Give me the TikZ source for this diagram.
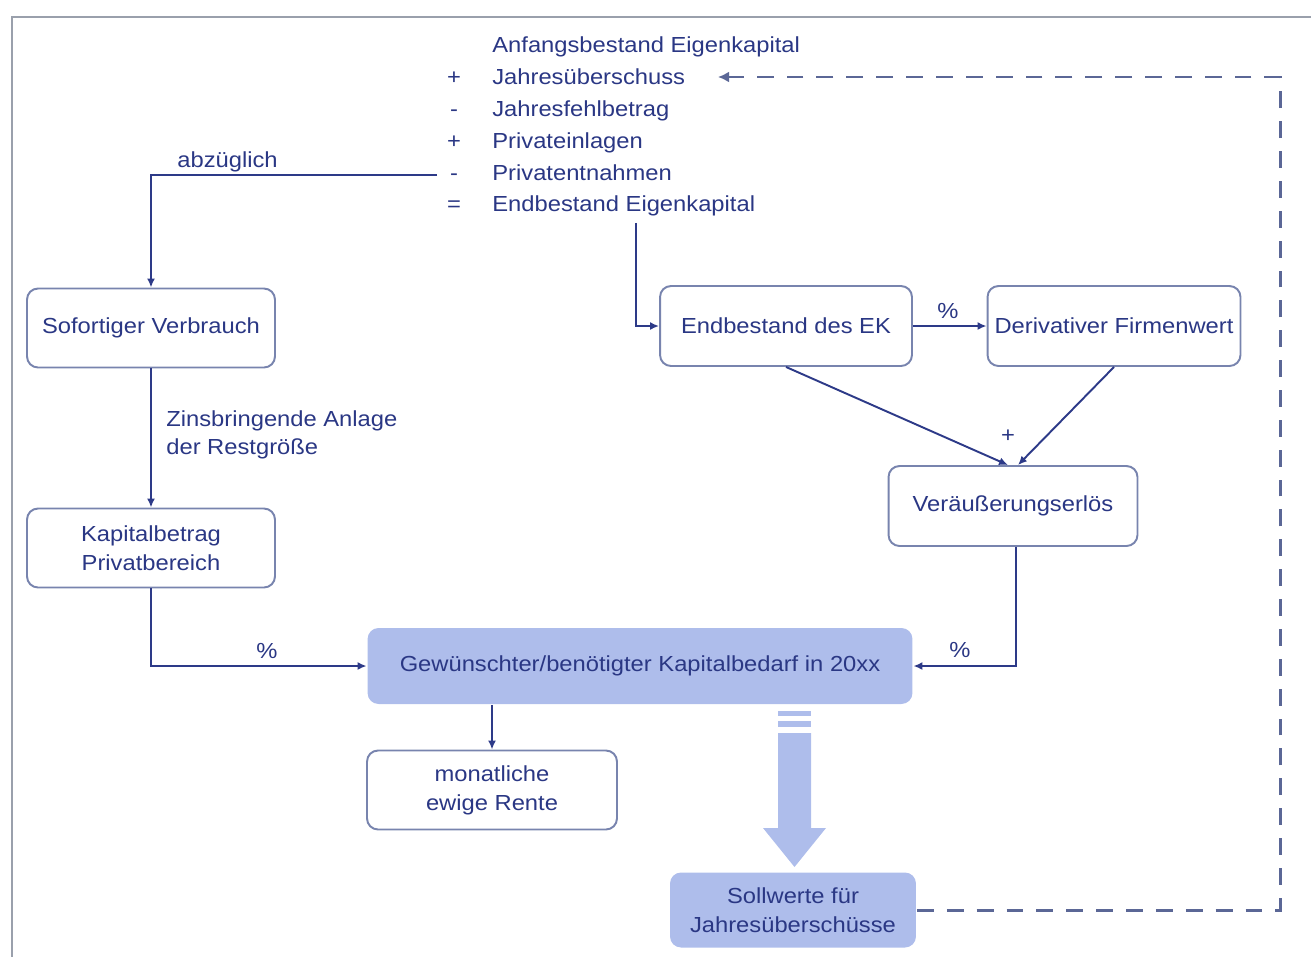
\documentclass[tikz,border=0pt]{standalone}
\usepackage{fontspec}
\setmainfont{Liberation Sans}[FakeStretch=1.09]
\usetikzlibrary{arrows.meta,calc}

\definecolor{txt}{HTML}{2A3784}
\definecolor{connc}{HTML}{2D3A88}
\definecolor{boxline}{HTML}{7884AE}
\definecolor{boxfill}{HTML}{AEBDEB}
\definecolor{dashc}{HTML}{5B6796}
\definecolor{framec}{HTML}{9AA0AC}

\begin{document}
\begin{tikzpicture}[x=0.02cm,y=-0.02cm,
  font=\fontsize{12.4}{16.4}\selectfont, text=txt,
  box/.style={draw=boxline,line width=1.1pt,rounded corners=0.22cm,fill=white,
    inner sep=0pt,align=center},
  fillbox/.style={box,draw=none,fill=boxfill},
  tipstyle/.style={-{Latex[length=1.8mm,width=1.6mm]}},
  conn/.style={draw=connc,line width=1.1pt,tipstyle},
  feedback/.style={draw=dashc,line width=1.7pt,dash pattern=on 9.6pt off 7.4pt,
    -{Latex[length=2.2mm,width=2.2mm]}},
  lbl/.style={inner sep=0pt,anchor=base west},
  sign/.style={inner sep=0pt,anchor=base},
  edgelbl/.style={inner sep=0pt,anchor=base}]

\useasboundingbox (0,0) rectangle (1311,957);

% frame
\draw[framec,line width=1.6pt] (1311,17) -- (12,17) -- (12,957);

% equity development statement
\node[lbl] (l0) at (492,52) {Anfangsbestand Eigenkapital};
\node[sign] (s1) at (454,84) {+};
\node[lbl] (l1) at (492,84) {Jahresüberschuss};
\node[sign] (s2) at (454,116) {-};
\node[lbl] (l2) at (492,116) {Jahresfehlbetrag};
\node[sign] (s3) at (454,148) {+};
\node[lbl] (l3) at (492,148) {Privateinlagen};
\node[sign] (s4) at (454,180) {-};
\node[lbl] (l4) at (492,180) {Privatentnahmen};
\node[sign] (s5) at (454,211) {=};
\node[lbl] (l5) at (492,211) {Endbestand Eigenkapital};

% boxes
\node[box,minimum width=4.96cm,minimum height=1.58cm] (sv) at (151,328) {Sofortiger Verbrauch};
\node[box,minimum width=4.96cm,minimum height=1.58cm] (kb) at (151,548) {Kapitalbetrag\\Privatbereich};
\node[box,minimum width=5.04cm,minimum height=1.6cm] (ek) at (786,326) {Endbestand des EK};
\node[box,minimum width=5.06cm,minimum height=1.6cm] (fw) at (1114,326) {Derivativer Firmenwert};
\node[box,minimum width=4.98cm,minimum height=1.6cm] (ve) at (1013,506) {Veräußerungserlös};
\node[fillbox,minimum width=10.9cm,minimum height=1.52cm] (gk) at (640,666) {Gewünschter/benötigter Kapitalbedarf in 20xx};
\node[box,minimum width=5.0cm,minimum height=1.58cm] (mr) at (492,790) {monatliche\\ewige Rente};
\node[fillbox,minimum width=4.92cm,minimum height=1.5cm] (so) at (793,910) {Sollwerte für\\Jahresüberschüsse};

% connectors
\coordinate (abz) at (437,175);
\draw[conn] (abz) -| (sv.north);
\node[lbl] (labz) at (177,167) {abzüglich};

\draw[conn] (sv.south) -- (kb.north);
\node[lbl,align=left,anchor=north west] (lzins) at (166,410) {Zinsbringende Anlage\\der Restgröße};

\draw[conn] (kb.south) |- (gk.west);
\node[edgelbl] (p1) at (267,658) {\%};

\draw[conn] ($(l5.south west)+(144,7)$) |- (ek.west);
\draw[conn] (ek.east) -- (fw.west);
\node[edgelbl] (p2) at (948,318) {\%};

\draw[conn] (ek.south) -- ($(ve.north)+(-5,0)$);
\draw[conn] (fw.south) -- ($(ve.north)+(5,0)$);
\node[edgelbl] (plus) at (1008,442) {+};

\draw[conn] ($(ve.south)+(3,0)$) |- (gk.east);
\node[edgelbl] (p3) at (960,657) {\%};

\draw[conn] (gk.south -| mr.north) -- (mr.north);

% broad arrow towards the target values
\fill[boxfill] (778,711) rectangle (811,716);
\fill[boxfill] (778,721) rectangle (811,727);
\fill[boxfill] (778,733) -- (811,733) -- (811,828) -- (826,828) -- (794.5,867)
  -- (763,828) -- (778,828) -- cycle;

% feedback loop
\coordinate (dtop) at (1280,77);
\coordinate (dend) at (718,77);
\draw[feedback] (so.east) -| (dtop) -- (dend);

\end{tikzpicture}
\end{document}
